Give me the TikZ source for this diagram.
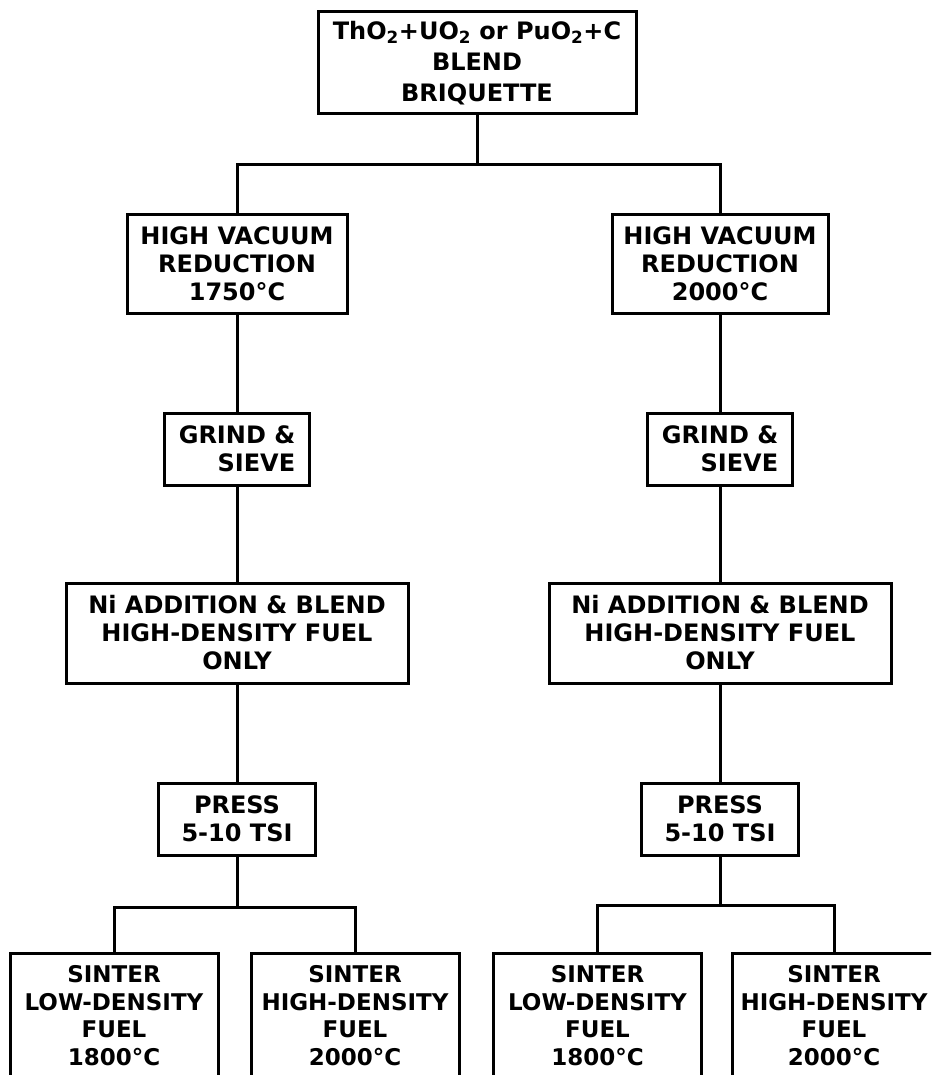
\documentclass[tikz,border=0pt]{standalone}
\usepackage{fontspec}
\setmainfont{DejaVu Sans}
\usepackage{tikz}

\begin{document}
\begin{tikzpicture}[
		x=1pt, y=-1pt,
		% Define styles
		process/.style={
			rectangle,
			draw,
			line width=3pt,
			font=\bfseries\fontsize{24}{28}\selectfont,
			align=center,
			inner sep=0pt
		},
		sinter/.style={
			process,
			font=\bfseries\fontsize{23}{27.5}\selectfont,
			minimum width=208pt,
			minimum height=125pt
		},
		% Define connector style
		link/.style={line width=3pt}
		]
		
		\useasboundingbox (0,0) rectangle (931,1075);
		\clip (0,0) rectangle (931,1075);
		
		% ----- Starting Blend -----
		\node[process, minimum width=318pt, minimum height=102pt,
		font=\bfseries\fontsize{24}{31}\selectfont] (blend) at (477,63) {
			ThO\textsubscript{2}+UO\textsubscript{2} or PuO\textsubscript{2}+C \\
			BLEND \\
			BRIQUETTE
		};
		
		% ----- Left Branch -----
		\node[process, minimum width=220pt, minimum height=98pt] (vacL) at (237,264) {
			HIGH VACUUM \\
			REDUCTION \\
			1750°C
		};
		\node[process, minimum width=145pt, minimum height=72pt, align=right] (grindL) at (237,449) {
			GRIND \& \\
			SIEVE
		};
		\node[process, minimum width=342pt, minimum height=100pt] (nickelL) at (237,633) {
			Ni ADDITION \& BLEND \\
			HIGH-DENSITY FUEL \\
			ONLY
		};
		\node[process, minimum width=157pt, minimum height=72pt] (pressL) at (237,819) {
			PRESS \\
			5-10 TSI
		};
		
		% ----- Right Branch -----
		\node[process, minimum width=216pt, minimum height=98pt] (vacR) at (720,264) {
			HIGH VACUUM \\
			REDUCTION \\
			2000°C
		};
		\node[process, minimum width=145pt, minimum height=72pt, align=right] (grindR) at (720,449) {
			GRIND \& \\
			SIEVE
		};
		\node[process, minimum width=342pt, minimum height=100pt] (nickelR) at (720,633) {
			Ni ADDITION \& BLEND \\
			HIGH-DENSITY FUEL \\
			ONLY
		};
		\node[process, minimum width=157pt, minimum height=72pt] (pressR) at (720,819) {
			PRESS \\
			5-10 TSI
		};
		
		% ----- Sintering -----
		\node[sinter] (lowL) at (114,1015.5) {SINTER \\ LOW-DENSITY \\ FUEL \\ 1800°C};
		\node[sinter] (highL) at (355,1015.5) {SINTER \\ HIGH-DENSITY \\ FUEL \\ 2000°C};
		\node[sinter] (lowR) at (597.5,1015.5) {SINTER \\ LOW-DENSITY \\ FUEL \\ 1800°C};
		\node[sinter, minimum width=204pt] (highR) at (834,1015.5) {SINTER \\ HIGH-DENSITY \\ FUEL \\ 2000°C};
		
		% ----- Connectors -----
		\coordinate (fork) at (477,165);
		\coordinate (forkL) at (237,907);
		\coordinate (forkR) at (720,905);
		
		\draw[link] (blend.south) -- (fork);
		\draw[link] (vacL.north) |- (fork) -| (vacR.north);
		
		\draw[link] (vacL.south) -- (grindL.north);
		\draw[link] (grindL.south) -- (nickelL.north);
		\draw[link] (nickelL.south) -- (pressL.north);
		\draw[link] (pressL.south) -- (forkL);
		\draw[link] (lowL.north) |- (forkL) -| (highL.north);
		
		\draw[link] (vacR.south) -- (grindR.north);
		\draw[link] (grindR.south) -- (nickelR.north);
		\draw[link] (nickelR.south) -- (pressR.north);
		\draw[link] (pressR.south) -- (forkR);
		\draw[link] (lowR.north) |- (forkR) -| (highR.north);
		
	\end{tikzpicture}
\end{document}
